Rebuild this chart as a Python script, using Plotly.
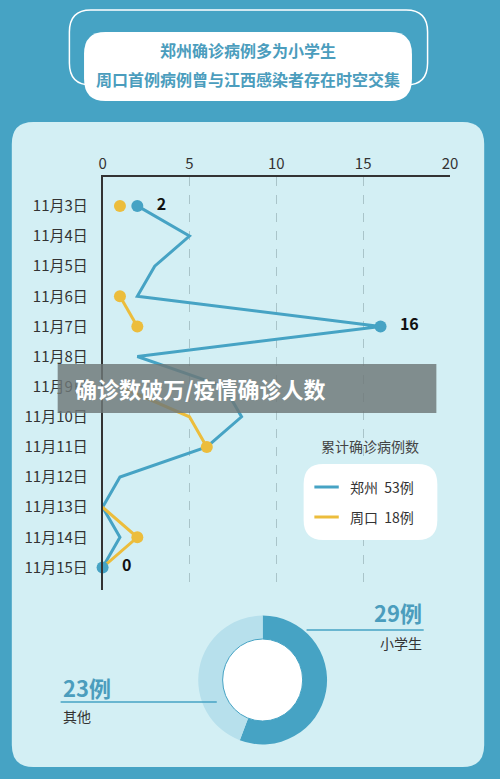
import plotly.graph_objects as go

W, H = 500, 779

dates = ["11月3日", "11月4日", "11月5日", "11月6日", "11月7日", "11月8日", "11月9日",
         "11月10日", "11月11日", "11月12日", "11月13日", "11月14日", "11月15日"]
zhengzhou = [2, 5, 3, 2, 16, 2, 7, 8, 6, 1, 0, 1, 0]
zhoukou = [1, None, None, 1, 2, None, 1, 5, 6, None, 0, 2, 0]
x_ticks = [0, 5, 10, 15, 20]
pie_labels = ["小学生", "其他"]
pie_values = [29, 23]

BLUE = "#46a3c4"
YELLOW = "#ecbd3c"
PANEL = "#d3eff4"


def px(x):
    return x / W


def py(y):
    return 1 - y / H


def rounded(x0, y0, x1, y1, r):
    # rounded rect path in paper coords from pixel values
    X = lambda v: f"{px(v):.4f}"
    Y = lambda v: f"{py(v):.4f}"
    return (f"M {X(x0 + r)},{Y(y0)} L {X(x1 - r)},{Y(y0)} Q {X(x1)},{Y(y0)} {X(x1)},{Y(y0 + r)} "
            f"L {X(x1)},{Y(y1 - r)} Q {X(x1)},{Y(y1)} {X(x1 - r)},{Y(y1)} "
            f"L {X(x0 + r)},{Y(y1)} Q {X(x0)},{Y(y1)} {X(x0)},{Y(y1 - r)} "
            f"L {X(x0)},{Y(y0 + r)} Q {X(x0)},{Y(y0)} {X(x0 + r)},{Y(y0)} Z")


fig = go.Figure()
ys = list(range(len(dates)))

fig.add_trace(go.Scatter(x=zhengzhou, y=ys, mode="lines", line=dict(color=BLUE, width=3),
                         showlegend=False, hoverinfo="skip", cliponaxis=False))
# only some Zhoukou days carry a dot in the original
yellow_dots = [0, 3, 4, 8, 11]
fig.add_trace(go.Scatter(x=zhoukou, y=ys, mode="lines+markers", line=dict(color=YELLOW, width=3),
                         marker=dict(size=[12 if i in yellow_dots else 0 for i in ys], color=YELLOW,
                                     opacity=1, line=dict(width=0)),
                         showlegend=False, connectgaps=False, cliponaxis=False))
# highlighted points on Zhengzhou line
hi = [0, 4, 12]
fig.add_trace(go.Scatter(x=[zhengzhou[i] for i in hi], y=hi, mode="markers+text",
                         marker=dict(size=12, color=BLUE), cliponaxis=False,
                         text=[f"<b>   {zhengzhou[i]}</b>" for i in hi], textposition="middle right",
                         textfont=dict(size=16, color="#111"), showlegend=False))

fig.add_trace(go.Pie(values=pie_values, labels=pie_labels, sort=False, direction="clockwise",
                     rotation=0, hole=0.62, textinfo="none", showlegend=False,
                     marker=dict(colors=[BLUE, "#b7e0ec"]),
                     domain=dict(x=[px(199), px(331)], y=[py(746), py(614)])))

fig.update_xaxes(range=[0, 20], side="top", tickvals=x_ticks, showgrid=True, gridcolor="#a9c4c9",
                 griddash="dash", gridwidth=1, zeroline=False, showline=True, linecolor="#333",
                 linewidth=1.5, tickfont=dict(size=15, color="#333"), ticks="",
                 domain=[px(101), px(457)])
fig.update_yaxes(range=[12.75, -0.96], tickvals=ys, ticktext=dates, showgrid=False, zeroline=False,
                 showline=True, linecolor="#333", linewidth=1.5, tickfont=dict(size=15, color="#333"),
                 ticks="", ticklabelstandoff=10, domain=[py(590), py(177)])

shapes = [
    dict(type="path", path=rounded(8, 122, 492, 767, 22), xref="paper", yref="paper",
         fillcolor=PANEL, line=dict(width=0), layer="below"),
    dict(type="path", path=rounded(67, 10, 434, 85, 22), xref="paper", yref="paper",
         fillcolor="rgba(0,0,0,0)", line=dict(color="white", width=1.5), layer="below"),
    dict(type="path", path=rounded(82, 32, 418, 101, 22), xref="paper", yref="paper",
         fillcolor="white", line=dict(width=0), layer="below"),
    # legend box
    dict(type="path", path=rounded(307, 464, 444, 540, 20), xref="paper", yref="paper",
         fillcolor="white", line=dict(width=0)),
    dict(type="line", xref="paper", yref="paper", x0=px(318), x1=px(343), y0=py(487), y1=py(487),
         line=dict(color=BLUE, width=3)),
    dict(type="line", xref="paper", yref="paper", x0=px(318), x1=px(343), y0=py(517), y1=py(517),
         line=dict(color=YELLOW, width=3)),
    # donut centre and leader lines
    dict(type="circle", xref="paper", yref="paper", x0=px(224), x1=px(306), y0=py(721), y1=py(639),
         fillcolor="white", line=dict(color=BLUE, width=1)),
    dict(type="line", xref="paper", yref="paper", x0=px(310), x1=px(430), y0=py(630), y1=py(630),
         line=dict(color=BLUE, width=1.5)),
    dict(type="line", xref="paper", yref="paper", x0=px(58), x1=px(218), y0=py(702), y1=py(702),
         line=dict(color=BLUE, width=1.5)),
    # overlay banner
    dict(type="rect", xref="paper", yref="paper", x0=px(55), x1=px(443), y0=py(413), y1=py(364),
         fillcolor="rgba(110,120,120,0.82)", line=dict(width=0)),
]

TBLUE = "#4b9dbd"
ann = [
    dict(x=px(250), y=py(50), text="<b>郑州确诊病例多为小学生</b>", font=dict(size=16, color=TBLUE)),
    dict(x=px(250), y=py(79), text="<b>周口首例病例曾与江西感染者存在时空交集</b>", font=dict(size=16, color=TBLUE)),
    dict(x=px(375), y=py(446), text="累计确诊病例数", font=dict(size=14, color="#444")),
    dict(x=px(352), y=py(487), text="郑州  53例", xanchor="left", font=dict(size=14, color="#333")),
    dict(x=px(352), y=py(517), text="周口  18例", xanchor="left", font=dict(size=14, color="#333")),
    dict(x=px(430), y=py(612), text="<b>29例</b>", xanchor="right", font=dict(size=22, color=TBLUE)),
    dict(x=px(430), y=py(643), text="小学生", xanchor="right", font=dict(size=14, color="#333")),
    dict(x=px(58), y=py(687), text="<b>23例</b>", xanchor="left", font=dict(size=22, color=TBLUE)),
    dict(x=px(58), y=py(716), text="其他", xanchor="left", font=dict(size=14, color="#333")),
    dict(x=px(71), y=py(388), text="<b>确诊数破万/疫情确诊人数</b>", xanchor="left",
         font=dict(size=22, color="white")),
]
for a in ann:
    a.update(xref="paper", yref="paper", showarrow=False, yanchor="middle")
    a.setdefault("xanchor", "center")

fig.update_layout(width=W, height=H, margin=dict(l=0, r=0, t=0, b=0),
                  paper_bgcolor=BLUE, plot_bgcolor="rgba(0,0,0,0)",
                  font=dict(family="Noto Sans CJK SC"), shapes=shapes, annotations=ann)

fig.write_html("out.html", config={"displayModeBar": False},
               post_script="document.body.style.margin='0';document.body.style.overflow='hidden';")
